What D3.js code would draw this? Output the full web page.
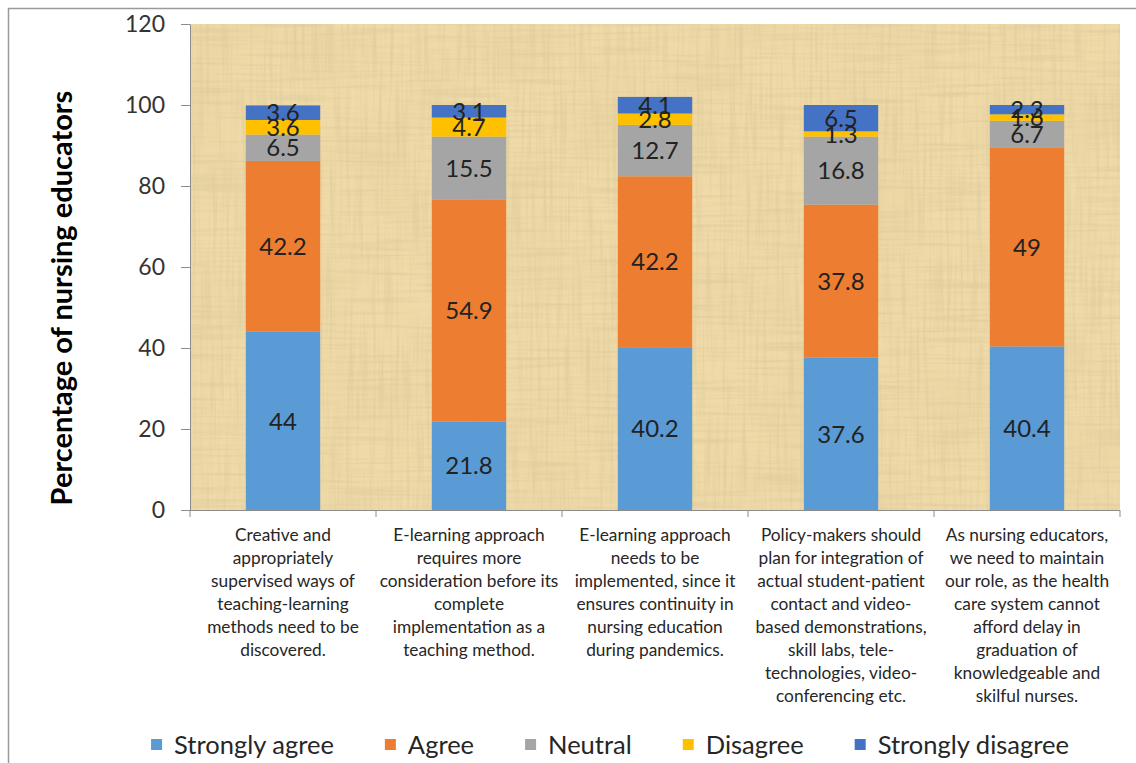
<!DOCTYPE html>
<html>
<head>
<meta charset="utf-8">
<script src="https://cdn.jsdelivr.net/npm/d3@7"></script>
<style>
  html, body { margin: 0; padding: 0; background: #fff; }
  svg { display: block; font-family: Lato, "Open Sans", sans-serif; }
</style>
</head>
<body>
<svg id="chart" width="1136" height="763"></svg>
<script>
// statements on the x axis, one array of lines each
const categories = [
  ['Creative and', 'appropriately', 'supervised ways of', 'teaching-learning', 'methods need to be', 'discovered.'],
  ['E-learning approach', 'requires more', 'consideration before its', 'complete', 'implementation as a', 'teaching method.'],
  ['E-learning approach', 'needs to be', 'implemented, since it', 'ensures continuity in', 'nursing education', 'during pandemics.'],
  ['Policy-makers should', 'plan for integration of', 'actual student-patient', 'contact and video-', 'based demonstrations,', 'skill labs, tele-', 'technologies, video-', 'conferencing etc.'],
  ['As nursing educators,', 'we need to maintain', 'our role, as the health', 'care system cannot', 'afford delay in', 'graduation of', 'knowledgeable and', 'skilful nurses.']
]

const seriesNames = ['Strongly agree', 'Agree', 'Neutral', 'Disagree', 'Strongly disagree']
const strongAgree = [44, 21.8, 40.2, 37.6, 40.4]
const agree = [42.2, 54.9, 42.2, 37.8, 49]
const neutral = [6.5, 15.5, 12.7, 16.8, 6.7]
const disagree = [3.6, 4.7, 2.8, 1.3, 1.6]
const strongDisagree = [3.6, 3.1, 4.1, 6.5, 2.3]
const yTicks = [0, 20, 40, 60, 80, 100, 120]

const colors = ['#5b9bd5', '#ed7d31', '#a5a5a5', '#ffc000', '#4472c4']
const allSeries = [strongAgree, agree, neutral, disagree, strongDisagree]

const table = categories.map((c, i) => {
  const row = { key: i }
  seriesNames.forEach((s, j) => row[s] = allSeries[j][i])
  return row
})

const svg = d3.select('#chart')
const plotLeft = 190, plotRight = 1120, plotTop = 24, plotBottom = 510

// outer frame
svg.append('rect')
  .attr('x', 8.5).attr('y', 8.5)
  .attr('width', 1140).attr('height', 770)
  .attr('fill', 'none').attr('stroke', '#9a9a9a').attr('stroke-width', 1.5)

// papyrus-ish texture for the plot area
const defs = svg.append('defs')
const f = defs.append('filter').attr('id', 'paper')
  .attr('x', 0).attr('y', 0).attr('width', '100%').attr('height', '100%')
f.append('feTurbulence').attr('type', 'fractalNoise').attr('baseFrequency', '0.3 0.012')
  .attr('numOctaves', 2).attr('seed', 3).attr('result', 'v')
f.append('feColorMatrix').attr('in', 'v').attr('type', 'matrix')
  .attr('values', '0 0 0 0 0.6  0 0 0 0 0.48  0 0 0 0 0.26  1.7 0 0 0 -0.75').attr('result', 'va')
f.append('feTurbulence').attr('type', 'fractalNoise').attr('baseFrequency', '0.012 0.3')
  .attr('numOctaves', 2).attr('seed', 9).attr('result', 'h')
f.append('feColorMatrix').attr('in', 'h').attr('type', 'matrix')
  .attr('values', '0 0 0 0 0.6  0 0 0 0 0.48  0 0 0 0 0.26  1.7 0 0 0 -0.77').attr('result', 'ha')
f.append('feTurbulence').attr('type', 'fractalNoise').attr('baseFrequency', '0.012')
  .attr('numOctaves', 3).attr('seed', 2).attr('result', 'b')
f.append('feColorMatrix').attr('in', 'b').attr('type', 'matrix')
  .attr('values', '0 0 0 0 0.78  0 0 0 0 0.64  0 0 0 0 0.34  2 0 0 0 -0.82').attr('result', 'ba')
const merge = f.append('feMerge')
merge.append('feMergeNode').attr('in', 'ba')
merge.append('feMergeNode').attr('in', 'va')
merge.append('feMergeNode').attr('in', 'ha')

svg.append('rect')
  .attr('x', plotLeft).attr('y', plotTop).attr('width', plotRight - plotLeft).attr('height', plotBottom - plotTop)
  .attr('fill', '#efdaa8')
svg.append('rect')
  .attr('x', plotLeft).attr('y', plotTop).attr('width', plotRight - plotLeft).attr('height', plotBottom - plotTop)
  .attr('fill', '#000').attr('filter', 'url(#paper)').attr('opacity', 0.45)

const x = d3.scaleBand()
  .domain(d3.range(categories.length))
  .range([plotLeft, plotRight])
  .paddingInner(0.6).paddingOuter(0.3)

const y = d3.scaleLinear().domain([0, 120]).range([plotBottom, plotTop])

const stacked = d3.stack().keys(seriesNames)(table)

const layers = svg.append('g').selectAll('g')
  .data(stacked)
  .join('g')
  .attr('fill', (d, i) => colors[i])

layers.selectAll('rect')
  .data(d => d)
  .join('rect')
  .attr('x', d => x(d.data.key))
  .attr('width', x.bandwidth())
  .attr('y', d => y(d[1]))
  .attr('height', d => y(d[0]) - y(d[1]))

// value labels
const labels = svg.append('g')
  .attr('font-size', 24).attr('fill', '#222').attr('text-anchor', 'middle')
stacked.forEach(layer => {
  labels.selectAll(null)
    .data(layer)
    .join('text')
    .attr('x', d => x(d.data.key) + x.bandwidth() / 2)
    .attr('y', d => y((d[0] + d[1]) / 2))
    .attr('dy', '0.36em')
    .text(d => d.data[layer.key])
})

// y axis
const yAxis = svg.append('g')
  .attr('transform', `translate(${plotLeft},0)`)
  .call(d3.axisLeft(y).tickValues(yTicks).tickSize(9).tickSizeOuter(0).tickPadding(16))
yAxis.select('.domain').attr('stroke', '#8c8c8c')
yAxis.selectAll('.tick line').attr('stroke', '#8c8c8c')
yAxis.selectAll('.tick text')
  .attr('font-family', 'Lato, sans-serif').attr('font-size', 23).attr('fill', '#333')

// x axis line and boundary ticks
const xAxis = svg.append('g').attr('stroke', '#8c8c8c')
xAxis.append('line')
  .attr('x1', plotLeft).attr('x2', plotRight).attr('y1', plotBottom + 0.5).attr('y2', plotBottom + 0.5)
const bounds = d3.range(categories.length).map(i => x(i) - x.step() * 0.3).concat([plotRight])
xAxis.selectAll(null)
  .data(bounds)
  .join('line')
  .attr('x1', d => d).attr('x2', d => d)
  .attr('y1', plotBottom).attr('y2', plotBottom + 7)

// category labels
const catG = svg.append('g')
  .attr('font-size', 17.3).attr('fill', '#262626').attr('text-anchor', 'middle')
categories.forEach((lines, i) => {
  const t = catG.append('text')
    .attr('x', x(i) + x.bandwidth() / 2)
    .attr('y', 541)
  lines.forEach((ln, k) => {
    t.append('tspan')
      .attr('x', x(i) + x.bandwidth() / 2)
      .attr('y', 541 + k * 23)
      .text(ln)
  })
})

// y title
svg.append('text')
  .attr('transform', 'translate(72,298) rotate(-90)')
  .attr('text-anchor', 'middle')
  .attr('font-size', 29).attr('font-weight', 'bold').attr('fill', '#000')
  .text('Percentage of nursing educators')

// legend
const legend = svg.append('g').attr('transform', 'translate(0,745)')
const items = legend.selectAll('g')
  .data(seriesNames)
  .join('g')
items.append('rect')
  .attr('y', -6).attr('width', 11).attr('height', 11)
  .attr('fill', (d, i) => colors[i])
items.append('text')
  .attr('x', 23).attr('dy', '0.36em')
  .attr('font-size', 25.5).attr('fill', '#262626')
  .text(d => d)
const widths = []
items.each(function () {
  widths.push(23 + this.querySelector('text').getComputedTextLength())
})
const total = d3.sum(widths) + 51 * (widths.length - 1)
let pos = 610 - total / 2
items.each(function (d, i) {
  d3.select(this).attr('transform', `translate(${pos},0)`)
  pos += widths[i] + 51
})
</script>
</body>
</html>
